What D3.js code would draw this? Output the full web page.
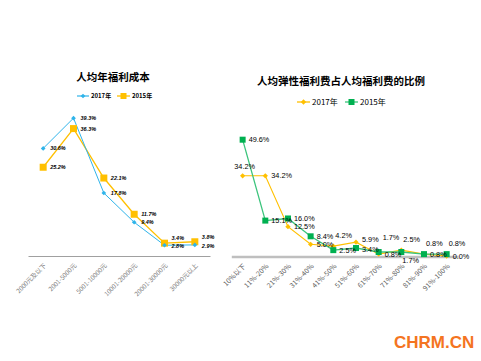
<!DOCTYPE html>
<html><head><meta charset="utf-8">
<script src="https://cdn.jsdelivr.net/npm/d3@7"></script>
<style>
html,body{margin:0;padding:0;background:#fff;}
svg{display:block;}
text{font-family:"Liberation Sans","Noto Sans CJK SC",Arial,sans-serif;}
</style></head>
<body>
<svg id="c" width="481" height="361"></svg>
<script>
// ---- data ----
const leftTitle = "人均年福利成本";
const leftCats = ["2000元及以下","2001-5000元","5001-10000元","10001-20000元","20001-30000元","30000元以上"];
const left2017 = [30.6, 39.3, 17.8, 9.4, 2.8, 2.9];
const left2015 = [25.2, 36.3, 22.1, 11.7, 3.4, 3.8];

const rightTitle = "人均弹性福利费占人均福利费的比例";
const rightCats = ["10%以下","11%-20%","21%-30%","31%-40%","41%-50%","51%-60%","61%-70%","71%-80%","81%-90%","91%-100%"];
const right2017 = [34.2, 34.2, 12.5, 5.0, 4.2, 5.9, 0.8, 2.5, 0.8, 0.0];
const right2015 = [49.6, 15.1, 16.0, 8.4, 2.5, 3.4, 1.7, 1.7, 0.8, 0.8];
const seriesNames = ["2017年", "2015年"];

// label placement codes (style only)
const right2017Place = ["top","right","right","right","above","rightup","right","above","above","right"];
const right2015Place = ["right","right","right","right","right","rightdown","high","below","right","above"];
const left2017Place = ["right","right","right","right","below","below"];
const left2015Place = ["right","right","right","right","above","above"];

const svg = d3.select("#c");
const cjk = '"Noto Sans CJK SC","Liberation Sans",sans-serif';
const fmt = v => v.toFixed(1) + "%";
const diamond = s => d3.symbol(d3.symbolSquare, s)();

// ---------- LEFT CHART ----------
const BLUE = "#2fb4ea", YEL = "#ffc000", GREEN = "#00b050", GLINE = "#3cc47c";
const lx = d3.scalePoint().domain(leftCats).range([28, 210]).padding(0.5);
const ly = d3.scaleLinear().domain([0, 40]).range([255, 115.7]);

svg.append("text").attr("x", 113).attr("y", 81).attr("text-anchor", "middle")
  .style("font-family", cjk).style("font-size", "10.5px").style("font-weight", "bold")
  .text(leftTitle);

const lax = svg.append("g").attr("transform", "translate(0,256)")
  .call(d3.axisBottom(lx).tickSize(0).tickSizeOuter(0));
lax.select(".domain").attr("stroke", "#a0a0a0").attr("stroke-width", 1);
lax.selectAll("text").attr("transform", "rotate(-45)").attr("text-anchor", "end")
  .attr("x", -5).attr("y", 7).attr("dy", "0.35em")
  .style("font-family", cjk).style("font-size", "6.3px").attr("fill", "#808080");

function lineOf(xs, ys, cats, vals) {
  return d3.line().x((d, i) => xs(cats[i])).y(d => ys(d))(vals);
}
svg.append("path").attr("d", lineOf(lx, ly, leftCats, left2015))
  .attr("fill", "none").attr("stroke", YEL).attr("stroke-width", 1.3);
svg.append("path").attr("d", lineOf(lx, ly, leftCats, left2017))
  .attr("fill", "none").attr("stroke", BLUE).attr("stroke-width", 1);
svg.selectAll(".lsq").data(left2015).enter().append("rect")
  .attr("x", (d, i) => lx(leftCats[i]) - 3.5).attr("y", d => ly(d) - 3.5)
  .attr("width", 7).attr("height", 7).attr("fill", YEL);
svg.selectAll(".ldm").data(left2017).enter().append("path")
  .attr("d", diamond(11))
  .attr("transform", (d, i) => `translate(${lx(leftCats[i])},${ly(d)}) rotate(45)`)
  .attr("fill", BLUE);

function placeLeft(vals, places) {
  vals.forEach((v, i) => {
    const x = lx(leftCats[i]), y = ly(v);
    let tx = x + 7, ty = y;
    if (places[i] === "above") { tx = x + 7; ty = y - 5; }
    if (places[i] === "below") { tx = x + 7; ty = y + 1; }
    svg.append("text").attr("x", tx).attr("y", ty).attr("dy", "0.35em")
      .style("font-size", "5.5px").style("font-weight", "bold").style("font-style", "italic")
      .text(fmt(v));
  });
}
placeLeft(left2017, left2017Place);
placeLeft(left2015, left2015Place);

// left legend
svg.append("line").attr("x1", 77).attr("x2", 89).attr("y1", 96).attr("y2", 96)
  .attr("stroke", BLUE).attr("stroke-width", 1.2);
svg.append("path").attr("d", diamond(11))
  .attr("transform", "translate(83,96) rotate(45)").attr("fill", BLUE);
svg.append("text").attr("x", 91).attr("y", 96).attr("dy", "0.35em")
  .style("font-family", cjk).style("font-size", "6px").style("font-weight", "bold").text(seriesNames[0]);
svg.append("line").attr("x1", 117).attr("x2", 130).attr("y1", 96).attr("y2", 96)
  .attr("stroke", YEL).attr("stroke-width", 1.3);
svg.append("rect").attr("x", 120.5).attr("y", 93).attr("width", 6).attr("height", 6).attr("fill", YEL);
svg.append("text").attr("x", 132).attr("y", 96).attr("dy", "0.35em")
  .style("font-family", cjk).style("font-size", "6px").style("font-weight", "bold").text(seriesNames[1]);

// ---------- RIGHT CHART ----------
const rx = d3.scalePoint().domain(rightCats).range([231.3, 458]).padding(0.5);
const ry = d3.scaleLinear().domain([0, 50]).range([256, 138.75]);

svg.append("text").attr("x", 341).attr("y", 85).attr("text-anchor", "middle")
  .style("font-family", cjk).style("font-size", "10.5px").style("font-weight", "bold")
  .text(rightTitle);

const rax = svg.append("g").attr("transform", "translate(0,256.5)")
  .call(d3.axisBottom(rx).tickSize(0).tickSizeOuter(0));
rax.select(".domain").attr("stroke", "#bfbfbf").attr("stroke-width", 2.5);
rax.selectAll("text").attr("transform", "rotate(-45)").attr("text-anchor", "end")
  .attr("x", -5).attr("y", 7).attr("dy", "0.35em")
  .style("font-family", cjk).style("font-size", "7px").attr("fill", "#595959");

svg.append("path").attr("d", lineOf(rx, ry, rightCats, right2017))
  .attr("fill", "none").attr("stroke", YEL).attr("stroke-width", 1.1);
svg.append("path").attr("d", lineOf(rx, ry, rightCats, right2015))
  .attr("fill", "none").attr("stroke", GLINE).attr("stroke-width", 1.3);
svg.selectAll(".rdm").data(right2017).enter().append("path")
  .attr("d", diamond(14))
  .attr("transform", (d, i) => `translate(${rx(rightCats[i])},${ry(d)}) rotate(45)`)
  .attr("fill", YEL);
svg.selectAll(".rsq").data(right2015).enter().append("rect")
  .attr("x", (d, i) => rx(rightCats[i]) - 3).attr("y", d => ry(d) - 3)
  .attr("width", 6).attr("height", 6).attr("fill", GREEN);

function placeRight(vals, places) {
  vals.forEach((v, i) => {
    const x = rx(rightCats[i]), y = ry(v);
    let tx = x + 6, ty = y, anchor = "start";
    const p = places[i];
    if (p === "above") { tx = x + 2; ty = y - 11; }
    if (p === "high") { tx = x + 4; ty = y - 15; }
    if (p === "top") { tx = x + 2; ty = y - 9; anchor = "middle"; }
    if (p === "below") { tx = x + 1; ty = y + 8; }
    if (p === "rightup") { ty = y - 2.5; }
    if (p === "rightdown") { ty = y + 1.5; }
    svg.append("text").attr("x", tx).attr("y", ty).attr("dy", "0.35em")
      .attr("text-anchor", anchor).style("font-size", "7.3px").text(fmt(v));
  });
}
placeRight(right2015, right2015Place);
placeRight(right2017, right2017Place);

// right legend
svg.append("line").attr("x1", 297).attr("x2", 310).attr("y1", 102).attr("y2", 102)
  .attr("stroke", YEL).attr("stroke-width", 1.3);
svg.append("path").attr("d", diamond(14))
  .attr("transform", "translate(303.5,102) rotate(45)").attr("fill", YEL);
svg.append("text").attr("x", 312).attr("y", 102).attr("dy", "0.35em")
  .style("font-family", cjk).style("font-size", "8px").text(seriesNames[0]);
svg.append("line").attr("x1", 345).attr("x2", 358).attr("y1", 102).attr("y2", 102)
  .attr("stroke", GLINE).attr("stroke-width", 1.3);
svg.append("rect").attr("x", 348.5).attr("y", 99).attr("width", 6).attr("height", 6).attr("fill", GREEN);
svg.append("text").attr("x", 360).attr("y", 102).attr("dy", "0.35em")
  .style("font-family", cjk).style("font-size", "8px").text(seriesNames[1]);

// watermark
svg.append("text").attr("x", 394).attr("y", 348)
  .style("font-size", "17px").style("font-weight", "bold").attr("fill", "#f47421")
  .text("CHRM.CN");
</script>
</body></html>
